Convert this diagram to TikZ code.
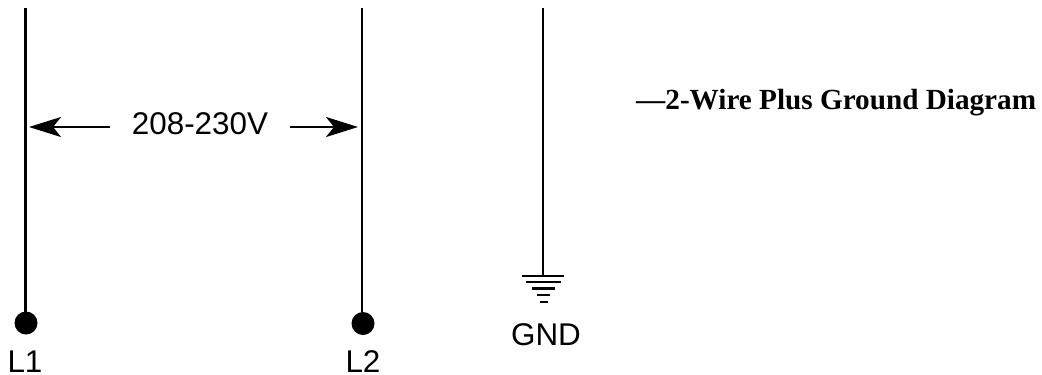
\documentclass[tikz,border=0pt]{standalone}
\usepackage{fontspec}
\setmainfont{Liberation Serif}
\setsansfont{Liberation Sans}
\usetikzlibrary{arrows.meta}
\tikzset{
  wire/.style={draw=black,line width=2.3pt},
  dot/.style={circle,fill=black,inner sep=0pt,minimum size=23pt},
  lbl/.style={inner sep=0pt,font=\sffamily\fontsize{31.4pt}{34pt}\selectfont,text=black,anchor=base},
  dim/.style={draw=black,line width=2.3pt,-{Stealth[length=32pt,width=20pt,inset=8pt]}},
  bar/.style={draw=black,line width=2.4pt},
  title/.style={inner sep=0pt,font=\rmfamily\bfseries\fontsize{29.2pt}{32pt}\selectfont,text=black,anchor=base west}
}
\begin{document}
\begin{tikzpicture}[x=1pt,y=-1pt]
\useasboundingbox (0,0) rectangle (1042,375);
\node[dot] (d1) at (26,323) {};
\node[dot] (d2) at (363,323.5) {};
\coordinate (t1) at (25.5,8);
\coordinate (t2) at (361.7,8);
\coordinate (t3) at (543,8);
\coordinate (g0) at (543,276);
\draw[wire] (t1) -- (t1 |- d1.center);
\draw[wire] (t2) -- (t2 |- d2.center);
\draw[wire] (t3) -- (g0);
\draw[bar] (522,276) -- (564,276);
\draw[bar] (526,282) -- (561,282);
\draw[bar] (532,288.5) -- (555,288.5);
\draw[bar] (537,295) -- (550,295);
\draw[bar] (540,302) -- (548,302);
\node[lbl] (v) at (200,134) {208-230V};
\coordinate (a1) at (110,127);
\coordinate (a1e) at (29,127);
\coordinate (a2) at (290,127);
\coordinate (a2e) at (358,127);
\draw[dim] (a1) -- (a1e);
\draw[dim] (a2) -- (a2e);
\node[lbl] (l1) at (25,372) {L1};
\node[lbl] (l2) at (363,372) {L2};
\node[lbl] (gnd) at (546,345) {GND};
\node[title] (tt) at (636,109) {—2-Wire Plus Ground Diagram};
\end{tikzpicture}
\end{document}
